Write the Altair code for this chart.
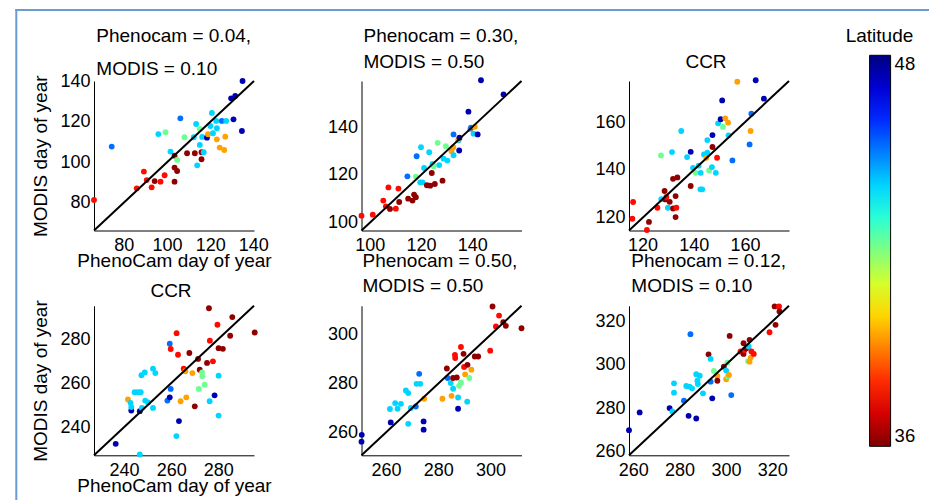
import altair as alt
import pandas as pd

FONT = "Liberation Sans"

# latitude (deg N) of each site
DR, R, O, G, C, B, DB = 36.2, 37.6, 39.4, 42.2, 44.0, 45.2, 47.4

# ---------- panel 1 : spring, Phenocam = 0.04 / MODIS = 0.10
p1_x = [66.2, 74.4, 86.0, 89.3, 90.6, 92.9, 94.3, 97.0, 98.9, 96.0, 99.3, 101.6, 103.5, 104.7, 103.5, 104.7,
        103.5, 106.2, 108.1, 109.3, 112.9, 112.4, 113.5, 114.0, 115.2, 115.2, 116.0, 116.3, 116.0, 117.0,
        118.5, 119.0, 120.1, 120.8, 121.3, 122.8, 123.1, 123.1, 124.4, 125.4, 126.5, 127.0, 127.4, 129.7,
        130.8, 131.6, 134.7, 135.0]
p1_y = [81.3, 107.8, 87.1, 95.4, 91.2, 87.6, 90.7, 90.4, 93.6, 114.0, 114.9, 105.3, 103.3, 101.2, 97.4, 95.7,
        90.4, 121.8, 112.4, 104.5, 104.5, 112.4, 119.0, 98.5, 116.5, 108.6, 105.0, 112.6, 101.5, 105.0,
        112.2, 113.9, 118.0, 124.5, 114.4, 120.5, 116.9, 111.4, 107.3, 120.5, 106.1, 112.7, 120.5, 131.7,
        121.3, 132.9, 115.5, 140.3]
p1_lat = [R, B, R, R, R, R, DR, R, R, C, G, C, DR, G, DR, DR,
          DR, B, G, DR, DR, C, C, C, G, C, DR, C, DR, C,
          DB, O, C, C, C, C, C, O, O, B, O, O, C, DB,
          DB, DB, DB, DB]

# ---------- panel 2 : spring, Phenocam = 0.30 / MODIS = 0.50
p2_x = [96.8, 101.2, 105.3, 106.3, 107.3, 107.9, 110.2, 111.2, 111.5, 114.7, 115.0, 116.7, 117.3, 118.0, 118.0,
        118.3, 120.0, 119.7, 120.6, 121.2, 122.3, 123.2, 123.6, 124.2, 124.5, 124.9, 125.4, 126.5, 127.1,
        128.4, 128.8, 129.7, 130.3, 131.9, 132.6, 132.7, 132.7, 134.6, 134.6, 134.9, 135.0, 138.5, 139.2,
        139.5, 140.5, 141.0, 142.1, 143.4, 152.2]
p2_y = [103.0, 103.4, 109.3, 106.9, 114.8, 105.8, 105.9, 114.3, 108.7, 119.4, 110.1, 109.3, 111.8, 110.7, 119.3,
        127.8, 131.6, 116.9, 116.9, 122.9, 115.7, 129.5, 115.5, 120.8, 124.6, 123.6, 116.2, 133.4, 124.1,
        117.6, 126.8, 132.0, 126.0, 129.9, 131.6, 136.9, 128.2, 134.4, 134.8, 130.2, 135.5, 146.4, 139.1,
        139.7, 137.2, 140.1, 136.9, 159.5, 153.6]
p2_lat = [R, R, R, R, R, DR, R, R, DR, B, DR, DR, DR, DR, G,
          B, C, C, C, C, DR, C, DR, DR, C, G, DR, G, C,
          DR, C, G, C, O, O, B, C, C, O, DB, DB, DB, O,
          B, C, O, DB, DB, DB]

# ---------- panel 3 : spring, CCR
p3_x = [116.3, 116.0, 121.7, 122.5, 125.8, 127.2, 127.3, 128.6, 128.9, 129.3, 129.9, 130.6, 131.5, 131.9, 131.9,
        132.9, 133.2, 132.9, 133.6, 135.1, 137.4, 138.8, 138.8, 139.7, 140.7, 141.9, 142.6, 142.7, 143.3,
        144.0, 144.9, 145.3, 145.3, 146.0, 147.1, 147.3, 147.3, 148.6, 149.1, 149.5, 150.5, 151.1, 151.4,
        152.3, 153.4, 153.6, 155.1, 157.0, 161.8, 162.2, 162.5, 164.2, 167.4]
p3_y = [126.6, 119.6, 114.9, 118.3, 124.2, 146.1, 127.8, 131.2, 127.7, 128.7, 124.2, 126.7, 147.5, 123.9, 136.3,
        129.1, 124.2, 120.3, 136.9, 156.3, 145.4, 147.6, 133.3, 140.9, 138.8, 141.8, 131.9, 138.8, 131.9,
        146.5, 145.1, 147.2, 152.5, 139.8, 141.2, 149.6, 154.6, 138.8, 145.1, 159.5, 161.2, 169.1, 158.0,
        161.6, 159.8, 154.5, 144.0, 176.9, 150.7, 156.3, 163.5, 177.5, 169.8]
p3_lat = [R, R, R, DR, R, G, C, DR, DR, R, C, DR, C, DR, DR,
          DR, R, DR, DR, C, C, DB, DR, C, G, C, C, C, C,
          C, O, C, C, G, C, DR, DB, C, R, C, DB, DB, G,
          O, O, C, B, O, B, O, B, DB, DB]

# ---------- panel 4 : autumn, CCR
p4_x = [236.5, 241.7, 242.8, 243.1, 243.1, 244.5, 245.9, 247.1, 246.7, 246.7, 247.4, 248.8, 247.6, 249.0, 250.2,
        252.3, 253.3, 252.3, 258.4, 259.4, 259.4, 259.8, 259.8, 262.2, 262.3, 262.9, 263.3, 264.0, 265.3,
        266.0, 266.4, 267.7, 269.0, 270.0, 271.4, 271.7, 272.1, 273.1, 273.2, 274.2, 275.2, 276.0, 276.3,
        276.4, 277.7, 278.4, 279.6, 280.1, 280.1, 280.1, 281.9, 285.0, 285.9, 295.4]
p4_y = [232.5, 252.6, 251.1, 247.6, 249.2, 255.9, 255.9, 255.9, 247.3, 227.7, 263.6, 264.9, 248.8, 252.1, 251.3,
        266.6, 264.6, 248.8, 252.1, 277.9, 253.6, 257.4, 275.5, 236.0, 282.7, 272.9, 242.8, 251.8, 266.6,
        265.4, 253.6, 273.7, 264.6, 249.5, 271.0, 257.4, 266.1, 264.9, 263.1, 259.3, 269.2, 294.0, 251.8,
        279.3, 269.9, 254.5, 286.5, 263.4, 245.3, 275.9, 275.6, 281.5, 290.0, 283.0]
p4_lat = [DB, O, C, DB, C, C, C, C, DB, C, C, C, C, C, C,
          C, C, C, B, B, DB, B, R, C, R, R, DB, O, R,
          O, O, DR, O, DR, DR, G, DR, G, G, G, DR, DR, C,
          R, R, DB, R, C, C, DR, DR, DR, DR, DR]

# ---------- panel 5 : autumn, Phenocam = 0.50 / MODIS = 0.50
p5_x = [250.7, 250.6, 261.5, 261.8, 263.5, 264.4, 265.7, 267.6, 268.5, 268.5, 269.5, 271.4, 271.7, 272.7, 273.1,
        274.4, 274.4, 274.6, 281.6, 283.3, 283.6, 284.8, 285.1, 285.7, 285.7, 286.4, 286.5, 287.1, 287.6,
        287.6, 288.0, 288.7, 288.7, 289.7, 289.9, 290.3, 291.2, 291.1, 291.9, 292.7, 294.0, 295.3, 299.9,
        300.8, 302.1, 303.3, 304.9, 305.9, 311.9]
p5_y = [259.0, 256.2, 269.6, 264.1, 272.0, 269.7, 271.7, 277.2, 276.1, 263.5, 270.0, 270.6, 279.9, 284.0, 279.9,
        264.5, 261.1, 273.8, 273.8, 286.2, 282.3, 280.2, 275.0, 282.3, 277.9, 291.8, 290.5, 282.5, 274.3,
        269.7, 279.1, 280.5, 295.0, 292.2, 286.8, 283.8, 287.7, 272.6, 282.3, 285.7, 291.1, 291.1, 293.5,
        311.6, 303.4, 307.9, 305.2, 303.7, 302.7]
p5_lat = [DB, DB, C, DB, C, C, C, C, C, C, C, B, C, B, C,
          DB, DB, O, O, DR, B, C, O, DR, C, R, R, DR, C,
          DB, G, G, R, DR, R, O, DR, C, G, O, DR, DR, R,
          DR, R, R, DR, DR, DR]

# ---------- panel 6 : autumn, Phenocam = 0.12 / MODIS = 0.10
p6_x = [258.2, 262.8, 275.7, 276.9, 277.6, 277.6, 281.9, 282.9, 284.3, 284.7, 283.9, 285.4, 287.2, 287.2, 287.7,
        288.7, 287.9, 290.1, 292.5, 293.4, 293.4, 294.1, 294.8, 296.3, 296.3, 299.1, 300.1, 300.1, 300.6,
        300.8, 301.3, 301.6, 302.3, 306.3, 307.6, 307.6, 308.0, 308.8, 309.5, 309.8, 310.2, 310.2, 310.7,
        311.0, 312.0, 318.8, 321.0, 321.4, 322.9, 323.1]
p6_y = [269.8, 278.0, 280.0, 278.4, 291.4, 287.1, 283.4, 290.2, 289.9, 314.1, 276.4, 289.1, 275.2, 295.6, 292.6,
        294.9, 291.1, 286.8, 304.8, 302.7, 292.2, 284.5, 297.1, 294.8, 292.6, 299.1, 297.3, 293.3, 300.9,
        294.6, 295.3, 313.3, 286.0, 306.1, 309.9, 305.0, 306.8, 307.6, 301.7, 308.4, 311.5, 301.4, 303.3,
        306.1, 305.0, 315.0, 326.9, 318.4, 326.9, 324.6]
p6_lat = [DB, DB, DB, C, C, C, B, C, C, B, DB, C, DB, C, C,
          C, C, C, DR, C, B, DB, G, O, DR, DR, C, O, G,
          G, O, DR, B, R, DR, DR, R, DR, G, C, DR, O, O,
          R, R, R, DR, DR, R, DR]

# axis limits (same on x and y) and tick values of each panel
limits = [(66.2, 140.3), (96.8, 159.2), (114.7, 177.2), (227.3, 295.1), (250.6, 311.9), (258.2, 327.2)]
ticks = [[80, 100, 120, 140], [100, 120, 140], [120, 140, 160],
         [240, 260, 280], [260, 280, 300], [260, 280, 300, 320]]
titles = [["Phenocam = 0.04,", "MODIS = 0.10"], ["Phenocam = 0.30,", "MODIS = 0.50"], ["CCR"],
          ["CCR"], ["Phenocam = 0.50,", "MODIS = 0.50"], ["Phenocam = 0.12,", "MODIS = 0.10"]]

# title placement (pixels relative to each panel's top-left corner): x, first baseline, line step
title_x = [2.3, 2.0, 77.0, 77.0, 1.0, 2.3]
title_y = [-39.3, -39.3, -13.3, -8.6, -39.3, -39.3]
title_step = [33.3, 26.0, 0, 0, 25.7, 25.7]

# jet colour map, 36 (dark red) to 48 (dark blue)
lat_stops = [36, 37.5, 40.5, 43.5, 46.5, 48]
jet = ["#800000", "#ff0000", "#ffff00", "#00ffff", "#0000ff", "#000080"]
cscale = alt.Scale(domain=lat_stops, range=jet, interpolate="rgb")
legend = alt.Legend(orient="none", legendX=775.6, legendY=-25.7, direction="vertical", title=None,
                    gradientLength=391, gradientThickness=21, values=[36, 48],
                    gradientStrokeColor="black", gradientStrokeWidth=1,
                    labelFont=FONT, labelFontSize=18.5, labelColor="black", labelOffset=4, padding=0)

W, H = 160, 149.5
xs_all = [p1_x, p2_x, p3_x, p4_x, p5_x, p6_x]
ys_all = [p1_y, p2_y, p3_y, p4_y, p5_y, p6_y]
lat_all = [p1_lat, p2_lat, p3_lat, p4_lat, p5_lat, p6_lat]
FRAME = "#6b9bd1"


def label(text, x, y, align):
    return alt.Chart(pd.DataFrame({"t": [text]})).mark_text(
        font=FONT, fontSize=19, color="black", align=align, baseline="alphabetic").encode(
        text="t:N", x=alt.value(x), y=alt.value(y))


def panel(i):
    lo, hi = limits[i]
    df = pd.DataFrame({"x": xs_all[i], "y": ys_all[i], "lat": lat_all[i]})
    sc = alt.Scale(domain=[lo, hi], nice=False, zero=False)
    first_col = i in (0, 3)
    xt = "PhenoCam day of year" if first_col else None
    yt = "MODIS day of year" if first_col else None
    pts = alt.Chart(df).mark_circle(size=34, opacity=1).encode(
        x=alt.X("x:Q", scale=sc, axis=alt.Axis(values=ticks[i], title=xt)),
        y=alt.Y("y:Q", scale=sc, axis=alt.Axis(values=ticks[i], title=yt)),
        color=alt.Color("lat:Q", scale=cscale, legend=legend),
    )
    one = alt.Chart(pd.DataFrame({"x": [lo, hi], "y": [lo, hi]})).mark_line(
        color="black", strokeWidth=2).encode(x=alt.X("x:Q", scale=sc), y=alt.Y("y:Q", scale=sc))
    layers = [pts, one]
    align = "center" if len(titles[i]) == 1 else "left"
    for k, line in enumerate(titles[i]):
        layers.append(label(line, title_x[i], title_y[i] + k * title_step[i], align))
    if i == 0:
        dummy = pd.DataFrame({"k": [0]})
        layers.append(alt.Chart(dummy).mark_rule(color=FRAME, strokeWidth=2).encode(
            x=alt.value(-77.7), y=alt.value(-72), y2=alt.value(420)))
        layers.append(alt.Chart(dummy).mark_rule(color=FRAME, strokeWidth=2).encode(
            x=alt.value(-78.7), x2=alt.value(835), y=alt.value(-71)))
    if i == 2:
        layers.append(label("Latitude", 250.5, -39.5, "center"))
    return alt.layer(*layers).properties(width=W, height=H)


chart = alt.concat(*[panel(i) for i in range(6)], columns=3, bounds="flush",
                   spacing={"row": 74.8, "column": 107.5}).properties(
    padding={"left": 6, "top": 0, "right": 0, "bottom": 0}
).configure_view(stroke=None).configure_axis(
    domainColor="black", domainWidth=1, ticks=False, grid=False, labelFlush=False,
    labelFont=FONT, labelFontSize=18, labelColor="black",
    titleFont=FONT, titleFontSize=19, titleFontWeight="normal", titleColor="black"
).configure_axisX(labelPadding=6, titlePadding=-3).configure_axisY(labelPadding=4, titlePadding=9)

chart.save("out.html", embed_options={"renderer": "svg", "actions": False})
